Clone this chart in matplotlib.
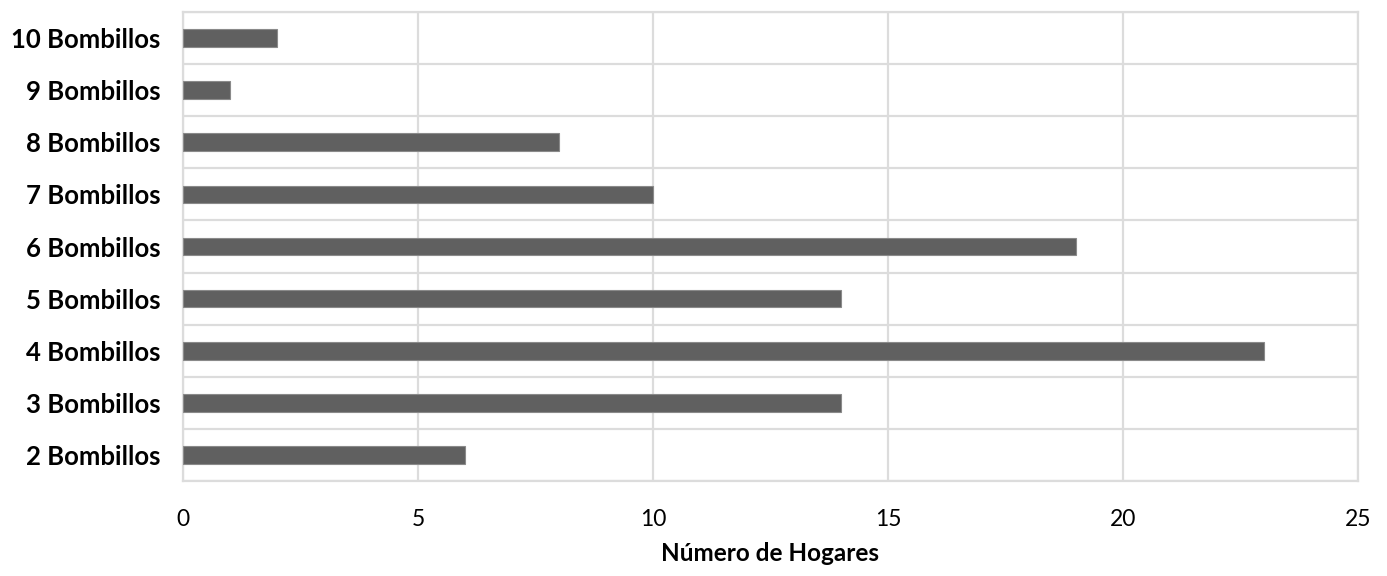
import numpy as np
import matplotlib.pyplot as plt
from matplotlib.ticker import MultipleLocator, FixedLocator

plt.rcParams['font.family'] = ['Lato', 'DejaVu Sans']

categorias = ['2 Bombillos', '3 Bombillos', '4 Bombillos', '5 Bombillos',
              '6 Bombillos', '7 Bombillos', '8 Bombillos', '9 Bombillos',
              '10 Bombillos']
hogares = [6, 14, 23, 14, 19, 10, 8, 1, 2]

fig, ax = plt.subplots(figsize=(13.87, 5.76), dpi=100)
fig.subplots_adjust(left=0.132, right=0.979, top=0.979, bottom=0.165)

y = np.arange(len(categorias))
ax.barh(y, hogares, height=0.34, color='#606060', edgecolor='#8a8a8a',
        linewidth=0.8, zorder=3)

ax.set_xlim(0, 25)
ax.set_ylim(-0.5, len(categorias) - 0.5)
ax.xaxis.set_major_locator(MultipleLocator(5))
ax.set_yticks(y)
ax.set_yticklabels(categorias, fontsize=18.5, fontweight='bold')
ax.yaxis.set_minor_locator(FixedLocator(np.arange(-0.5, len(categorias), 1)))

ax.grid(axis='x', which='major', color='#dcdcdc', linewidth=1.6, zorder=0)
ax.grid(axis='y', which='minor', color='#dcdcdc', linewidth=1.6, zorder=0)
for s in ax.spines.values():
    s.set_color('#dcdcdc')
    s.set_linewidth(1.6)

ax.tick_params(axis='both', which='both', length=0)
ax.tick_params(axis='x', labelsize=16.5, pad=20)
ax.tick_params(axis='y', pad=16)
ax.set_xlabel('Número de Hogares', fontsize=17.5, fontweight='bold', labelpad=9)

plt.savefig('out.png')
